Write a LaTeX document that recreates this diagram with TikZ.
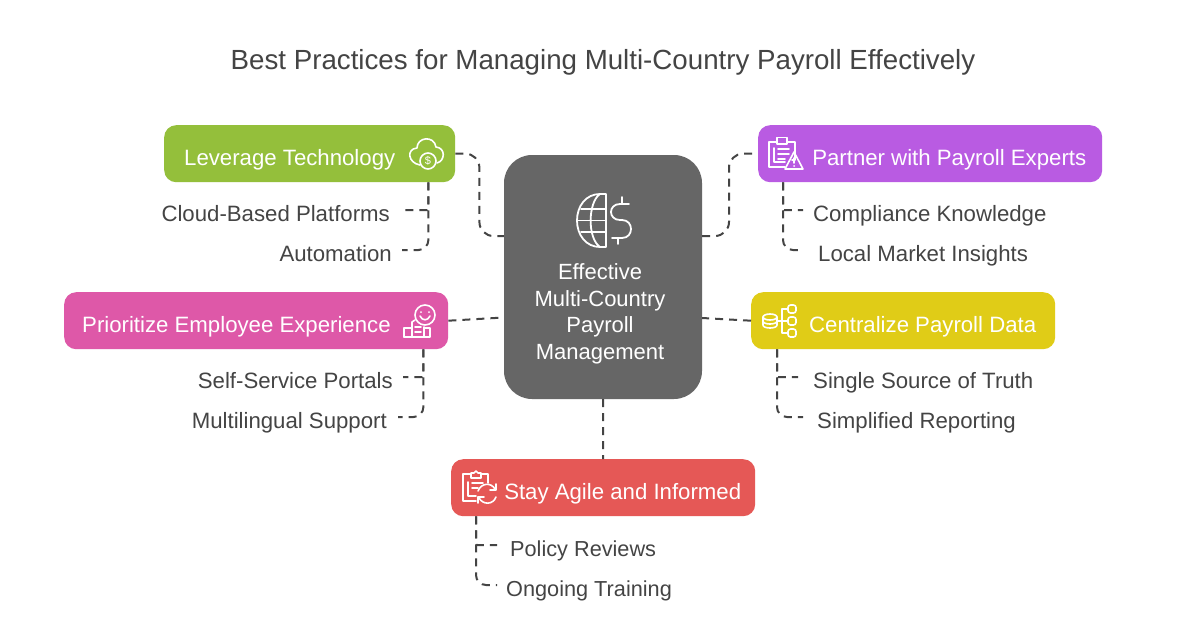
\documentclass[tikz,border=0pt]{standalone}
\usepackage{fontspec}
\setmainfont{Liberation Sans}
\definecolor{inkgray}{HTML}{444444}
\definecolor{hubgray}{HTML}{666666}
\definecolor{levgreen}{HTML}{94BF3B}
\definecolor{partpurple}{HTML}{B95BE2}
\definecolor{priopink}{HTML}{DE58A8}
\definecolor{centyellow}{HTML}{E0CC17}
\definecolor{stayred}{HTML}{E55856}
\tikzset{
    headbox/.style={fill=#1,rounded corners=12pt,text=white,anchor=north west,inner ysep=0pt,minimum height=57pt,text height=23pt,text depth=0pt,font=\fontsize{22.2}{26}\selectfont},
    sublabel/.style={inner sep=0pt,text=inkgray,text height=16pt,text depth=5pt,font=\fontsize{22.2}{26}\selectfont},
    link/.style={draw=inkgray,line width=2pt,dash pattern=on 8pt off 6pt},
    iconline/.style={draw=white,line width=1.6pt,line join=round,line cap=round}
}
\begin{document}
\begin{tikzpicture}[x=1pt,y=-1pt]
    \useasboundingbox[fill=white] (0,0) rectangle (1200,627);
    \node[text=inkgray,font=\fontsize{27.7}{32}\selectfont] (title) at (603,62) {Best Practices for Managing Multi-Country Payroll Effectively};

    \node[fill=hubgray,rounded corners=28pt,minimum width=198pt,minimum height=244pt,inner sep=0pt] (hubbox) at (603,277) {};
    \node[text=white,align=center,inner sep=0pt,font=\fontsize{22}{26.6}\selectfont] (hublbl) at (600,314) {Effective\\Multi-Country\\Payroll\\Management};

    \node[headbox=levgreen,inner xsep=20pt,text width=251pt,align=flush left] (levbox) at (164,125) {Leverage Technology};
    \node[headbox=partpurple,inner xsep=16pt,text width=312pt,align=flush right] (partbox) at (758,125) {Partner with Payroll Experts};
    \node[headbox=priopink,inner xsep=18pt,text width=348pt,align=flush left] (priobox) at (64,292) {Prioritize Employee Experience};
    \node[headbox=centyellow,inner xsep=19pt,text width=266pt,align=flush right] (centbox) at (751,292) {Centralize Payroll Data};
    \node[headbox=stayred,inner xsep=14pt,text width=276pt,align=flush right] (staybox) at (451,459) {Stay Agile and Informed};

    \node[sublabel,anchor=base east] (cloudlbl) at (390,221) {Cloud-Based Platforms};
    \node[sublabel,anchor=base east] (autolbl) at (392,261) {Automation};
    \node[sublabel,anchor=base west] (complbl) at (813,221) {Compliance Knowledge};
    \node[sublabel,anchor=base west] (locallbl) at (818,261) {Local Market Insights};
    \node[sublabel,anchor=base east] (selflbl) at (393,388) {Self-Service Portals};
    \node[sublabel,anchor=base east] (multilbl) at (387,428) {Multilingual Support};
    \node[sublabel,anchor=base west] (singlelbl) at (813,388) {Single Source of Truth};
    \node[sublabel,anchor=base west] (simplbl) at (817,428) {Simplified Reporting};
    \node[sublabel,anchor=base west,font=\fontsize{21.7}{26}\selectfont] (policylbl) at (510,556) {Policy Reviews};
    \node[sublabel,anchor=base west,font=\fontsize{21.7}{26}\selectfont] (ongolbl) at (506,596) {Ongoing Training};

    \draw[link,rounded corners=14pt] (levbox.east) -- ++(24,0) |- ([yshift=41pt]hubbox.west);
    \draw[link,rounded corners=14pt] ([yshift=41pt]hubbox.east) -| ([xshift=-29pt]partbox.west) -- (partbox.west);
    \draw[link] (priobox.east) -- ([yshift=-40.5pt]hubbox.west);
    \draw[link] (centbox.west) -- ([yshift=-41pt]hubbox.east);
    \draw[link] (hubbox.south) -- (staybox.north);

    \draw[link,rounded corners=1pt] ([xshift=-27pt]levbox.south east) |- ([xshift=15pt,yshift=5.5pt]cloudlbl.east);
    \draw[link,rounded corners=10pt] ([xshift=-27pt]levbox.south east) |- ([xshift=10pt,yshift=5.5pt]autolbl.east);
    \draw[link,rounded corners=1pt] ([xshift=25pt]partbox.south west) |- ([xshift=-10pt,yshift=5.5pt]complbl.west);
    \draw[link,rounded corners=10pt] ([xshift=25pt]partbox.south west) |- ([xshift=-15pt,yshift=5.5pt]locallbl.west);
    \draw[link,rounded corners=1pt] ([xshift=-25pt]priobox.south east) |- ([xshift=10pt,yshift=5.5pt]selflbl.east);
    \draw[link,rounded corners=10pt] ([xshift=-25pt]priobox.south east) |- ([xshift=11pt,yshift=5.5pt]multilbl.east);
    \draw[link,rounded corners=1pt] ([xshift=26pt]centbox.south west) |- ([xshift=-15pt,yshift=5.5pt]singlelbl.west);
    \draw[link,rounded corners=10pt] ([xshift=26pt]centbox.south west) |- ([xshift=-14pt,yshift=5.5pt]simplbl.west);
    \draw[link,rounded corners=1pt] ([xshift=25pt]staybox.south west) |- ([xshift=-13pt,yshift=5.5pt]policylbl.west);
    \draw[link,rounded corners=10pt] ([xshift=25pt]staybox.south west) |- ([xshift=-9pt,yshift=5.5pt]ongolbl.west);

    \draw[iconline,line width=1.8pt] (606,194) -- (606,247) -- (600,247) .. controls (586,247) and (577,235) .. (577,220.5) .. controls (577,206) and (586,194) .. (600,194) -- (606,194);
    \draw[iconline,line width=1.8pt] (600,194) .. controls (588,202) and (587,238) .. (600,247);
    \draw[iconline,line width=1.8pt] (581,209) -- (606,209);
    \draw[iconline,line width=1.8pt] (577,220.5) -- (606,220.5);
    \draw[iconline,line width=1.8pt] (581,232) -- (606,232);
    \draw[iconline,line width=1.8pt] (629,204) -- (620,204) .. controls (608,204) and (608,220) .. (620,220) -- (622,220) .. controls (634,220) and (634,238) .. (622,238) -- (612,238);
    \draw[iconline,line width=1.8pt] (622,197) -- (622,204);
    \draw[iconline,line width=1.8pt] (618,238) -- (618,244);

    \draw[iconline] (420,165) .. controls (408,163) and (406,149) .. (417,148) .. controls (417,137) and (434,135) .. (436,147) .. controls (446,148) and (445,161) .. (437,163);
    \draw[iconline] (428,161) circle (8);
    \node[text=white,inner sep=0pt,font=\fontsize{11}{12}\selectfont] (cloudsym) at (428,161) {\$};

    \draw[iconline] (792,160) -- (795,160) -- (795,142) -- (787,142);
    \draw[iconline] (777,142) -- (769,142) -- (769,167) -- (785,167);
    \draw[iconline] (777,137.5) -- (787,137.5) -- (787,144) -- (777,144) -- cycle;
    \draw[iconline] (774,148) -- (774,162) -- (785,162);
    \draw[iconline] (778,149) -- (789,149);
    \draw[iconline] (778,154) -- (789,154);
    \draw[iconline] (778,159) -- (785,159);
    \draw[iconline] (794,152) -- (803,169) -- (785,169) -- cycle;
    \draw[iconline] (794,158) -- (794,163);
    \fill[white] (794,166) circle (1);

    \draw[iconline] (425,315) circle (10);
    \draw[iconline] (420,316) .. controls (422,321) and (428,321) .. (430,316);
    \fill[white] (421,312) circle (1);
    \fill[white] (429,312) circle (1);
    \draw[iconline] (412,336) -- (412,322) -- (415,320);
    \draw[iconline] (424,327) -- (424,336);
    \draw[iconline] (404,337) -- (404,328) -- (412,328);
    \draw[iconline] (424,328) -- (430,328) -- (430,337) -- (404,337);
    \draw[iconline] (415,327) -- (421,327);
    \draw[iconline] (415,332) -- (421,332);

    \draw[iconline] (770,317) ellipse (7 and 3);
    \draw[iconline] (763,317) -- (763,325) .. controls (763,329) and (777,329) .. (777,325) -- (777,317);
    \draw[iconline] (763,321) .. controls (763,325) and (777,325) .. (777,321);
    \draw[iconline] (777,321) -- (782,321);
    \draw[iconline] (788,309) -- (782,309) -- (782,333) -- (788,333);
    \draw[iconline] (782,321) -- (788,321);
    \draw[iconline,rounded corners=2.5pt] (788,305) rectangle (796,313);
    \draw[iconline,rounded corners=2.5pt] (788,317) rectangle (796,325);
    \draw[iconline,rounded corners=2.5pt] (788,329) rectangle (796,337);

    \draw[iconline] (488,483) -- (488,474) -- (481,474);
    \draw[iconline] (471,474) -- (463,474) -- (463,501) -- (476,501);
    \draw[iconline] (471,473) -- (471,478) -- (481,478) -- (481,473) -- (478,473) -- (476,471) -- (474,473) -- cycle;
    \draw[iconline] (468,482) -- (468,496) -- (476,496);
    \draw[iconline] (472,483) -- (483,483);
    \draw[iconline] (472,488) -- (478,488);
    \draw[iconline] (478,491) .. controls (481,483) and (491,482) .. (495,489);
    \draw[iconline] (496,484) -- (496,490) -- (490,490);
    \draw[iconline] (496,497) .. controls (493,505) and (483,505) .. (479,498);
    \draw[iconline] (478,503) -- (478,497) -- (484,497);
\end{tikzpicture}
\end{document}
